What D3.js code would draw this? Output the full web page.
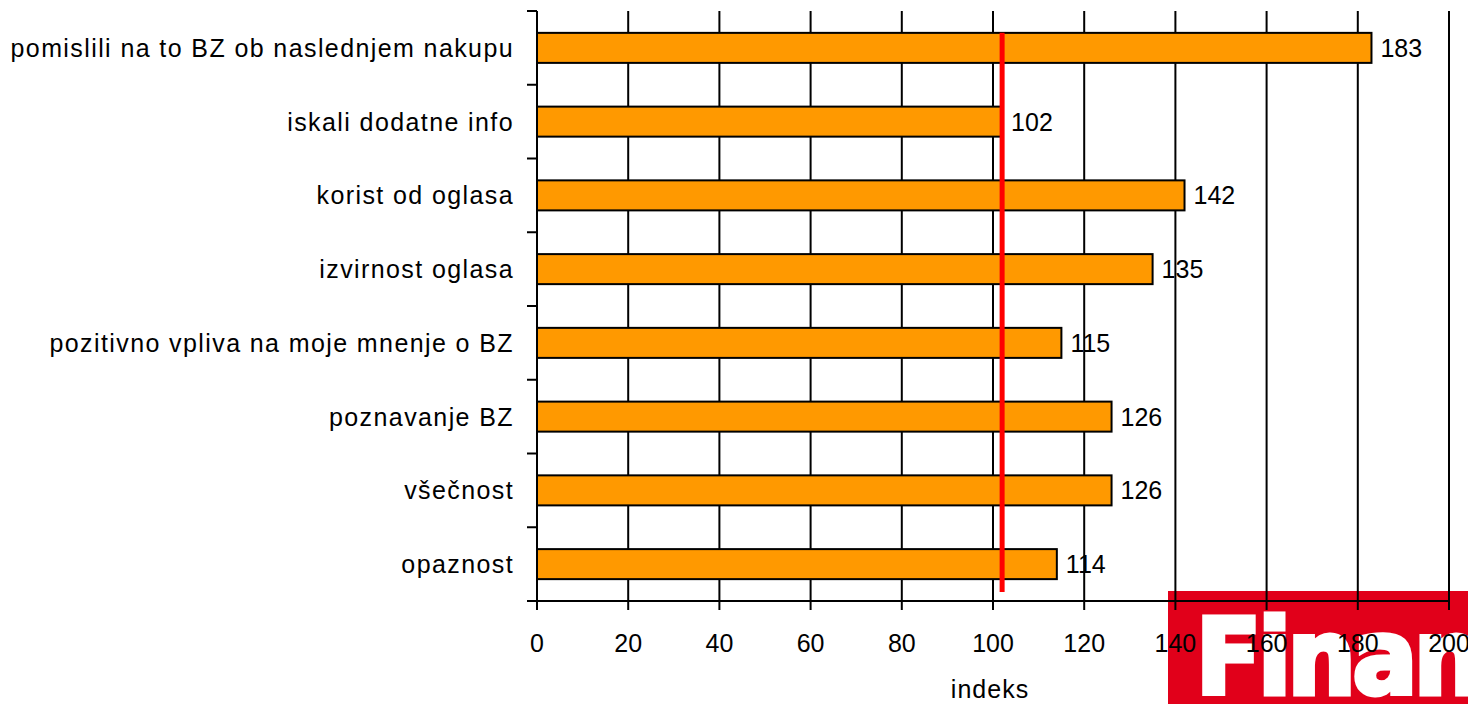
<!DOCTYPE html>
<html>
<head>
<meta charset="utf-8">
<script src="https://cdn.jsdelivr.net/npm/d3@7.9.0/dist/d3.min.js"></script>
<style>
  body { margin: 0; background: #fff; }
  svg { display: block; font-family: "Liberation Sans", Arial, sans-serif; }
</style>
</head>
<body>
<div id="chart"></div>
<script>
const categories = [
    'pomislili na to BZ ob naslednjem nakupu',
    'iskali dodatne info',
    'korist od oglasa',
    'izvirnost oglasa',
    'pozitivno vpliva na moje mnenje o BZ',
    'poznavanje BZ',
    'všečnost',
    'opaznost',
];
const values = [183, 102, 142, 135, 115, 126, 126, 114];
const xTicks = [0, 20, 40, 60, 80, 100, 120, 140, 160, 180, 200];
const referenceValue = 102;
const xTitle = 'indeks';
const logoText = 'Finance';

const data = categories.map((c, i) => ({ cat: c, value: values[i] }));

const width = 1468;
const height = 704;
const margin = { top: 11, right: 19, bottom: 103, left: 537 };

const usableArea = {
    top: margin.top,
    right: width - margin.right,
    bottom: height - margin.bottom,
    left: margin.left,
};

const svg = d3.select('#chart')
    .append('svg')
    .attr('width', width)
    .attr('height', height);

// Scales
const xScale = d3.scaleLinear()
    .domain([0, 200])
    .range([usableArea.left, usableArea.left + 912]);

const yScale = d3.scaleBand()
    .domain(categories)
    .range([usableArea.top, usableArea.bottom])
    .paddingInner(0.593)
    .paddingOuter(0.593 / 2);

// category boundaries for the left axis ticks
const yBound = d3.scaleLinear()
    .domain([0, categories.length])
    .range([usableArea.top, usableArea.bottom]);

// Logo box (behind the chart)
const logo = svg.append('g').attr('class', 'logo');
logo.append('clipPath').attr('id', 'logo-clip')
    .append('rect')
    .attr('x', 1168).attr('y', 591)
    .attr('width', 300).attr('height', 113);
logo.append('rect')
    .attr('x', 1168).attr('y', 591)
    .attr('width', 300).attr('height', 113)
    .attr('fill', '#e1001a');
logo.append('text')
    .attr('clip-path', 'url(#logo-clip)')
    .attr('x', 1196)
    .attr('y', 694)
    .attr('fill', '#fff')
    .attr('stroke', '#fff')
    .attr('stroke-width', 5)
    .attr('stroke-linejoin', 'miter')
    .style('font-family', '"Liberation Sans Narrow", "DejaVu Sans Condensed", sans-serif')
    .style('font-weight', 'bold')
    .style('font-size', '106px')
    .style('letter-spacing', '-3px')
    .text(logoText);

// Gridlines
svg.append('g')
    .attr('class', 'gridlines')
    .selectAll('line')
    .data(xTicks.slice(1))
    .join('line')
    .attr('x1', d => xScale(d))
    .attr('x2', d => xScale(d))
    .attr('y1', usableArea.top)
    .attr('y2', usableArea.bottom)
    .attr('stroke', '#000')
    .attr('stroke-width', 2);

// Bars
svg.append('g')
    .attr('class', 'bars')
    .selectAll('rect')
    .data(data)
    .join('rect')
    .attr('x', xScale(0))
    .attr('y', d => yScale(d.cat))
    .attr('width', d => xScale(d.value) - xScale(0))
    .attr('height', yScale.bandwidth())
    .attr('fill', '#ff9900')
    .attr('stroke', '#000')
    .attr('stroke-width', 2);

// Value labels
svg.append('g')
    .attr('class', 'values')
    .selectAll('text')
    .data(data)
    .join('text')
    .attr('x', d => xScale(d.value) + 9)
    .attr('y', d => yScale(d.cat) + yScale.bandwidth() / 2 + 9)
    .style('font-size', '25px')
    .attr('fill', '#000')
    .text(d => d.value);

// Reference line
svg.append('line')
    .attr('x1', xScale(referenceValue))
    .attr('x2', xScale(referenceValue))
    .attr('y1', yScale(categories[0]))
    .attr('y2', usableArea.bottom - 9)
    .attr('stroke', '#ff0000')
    .attr('stroke-width', 5);

// X axis
const xAxis = svg.append('g').attr('class', 'x-axis');
xAxis.append('line')
    .attr('x1', usableArea.left - 10)
    .attr('x2', xScale(200))
    .attr('y1', usableArea.bottom)
    .attr('y2', usableArea.bottom)
    .attr('stroke', '#000')
    .attr('stroke-width', 2);
xAxis.selectAll('line.tick')
    .data(xTicks)
    .join('line')
    .attr('class', 'tick')
    .attr('x1', d => xScale(d))
    .attr('x2', d => xScale(d))
    .attr('y1', usableArea.bottom)
    .attr('y2', usableArea.bottom + 9)
    .attr('stroke', '#000')
    .attr('stroke-width', 2);
xAxis.selectAll('text')
    .data(xTicks)
    .join('text')
    .attr('x', d => xScale(d))
    .attr('y', usableArea.bottom + 51)
    .attr('text-anchor', 'middle')
    .style('font-size', '25px')
    .text(d => d);

svg.append('text')
    .attr('x', 990)
    .attr('y', 698)
    .attr('text-anchor', 'middle')
    .style('font-size', '25px')
    .style('letter-spacing', '1px')
    .text(xTitle);

// Y axis
const yAxis = svg.append('g').attr('class', 'y-axis');
yAxis.append('line')
    .attr('x1', usableArea.left)
    .attr('x2', usableArea.left)
    .attr('y1', usableArea.top)
    .attr('y2', usableArea.bottom)
    .attr('stroke', '#000')
    .attr('stroke-width', 2);
yAxis.selectAll('line.tick')
    .data(d3.range(categories.length + 1))
    .join('line')
    .attr('class', 'tick')
    .attr('x1', usableArea.left - 10)
    .attr('x2', usableArea.left)
    .attr('y1', d => yBound(d))
    .attr('y2', d => yBound(d))
    .attr('stroke', '#000')
    .attr('stroke-width', 2);
yAxis.selectAll('text')
    .data(categories)
    .join('text')
    .attr('x', usableArea.left - 23)
    .attr('y', d => yScale(d) + yScale.bandwidth() / 2 + 9)
    .attr('text-anchor', 'end')
    .style('font-size', '25px')
    .style('letter-spacing', '1.4px')
    .text(d => d);
</script>
</body>
</html>
